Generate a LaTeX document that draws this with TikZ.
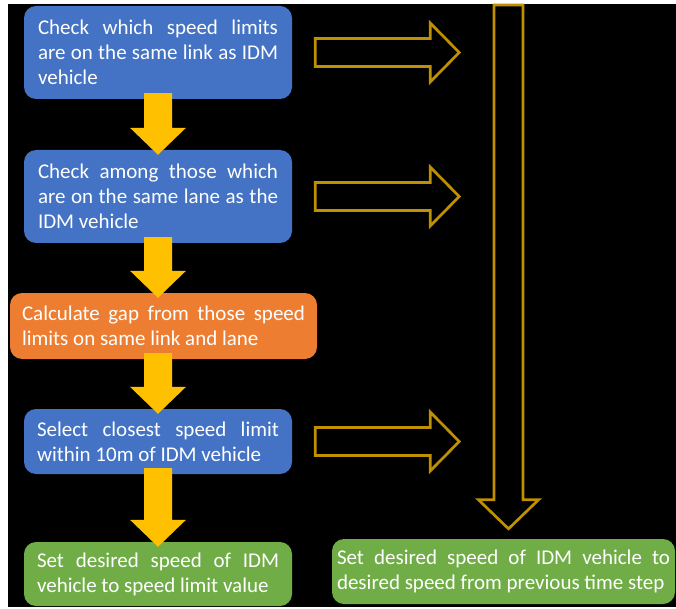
\documentclass[tikz,border=0pt]{standalone}
\usepackage{fontspec}
\setmainfont{Carlito}
\usetikzlibrary{calc}
\definecolor{cblue}{HTML}{4472C4}
\definecolor{corange}{HTML}{ED7D31}
\definecolor{cgreen}{HTML}{70AD47}
\definecolor{cyellow}{HTML}{FFC000}
\definecolor{cgold}{HTML}{BF9000}
\newcommand\solidarrow[2]{%
  \coordinate (st) at ($(b1.south |- #1.south)+(0,-6)$);
  \coordinate (sp) at ($(b1.south |- #2.north)+(0,5)$);
  \fill[yarrow] ($(st)+(-14,0)$) -- ($(st)+(14,0)$) -- ($(sp)+(14,-27)$) -- ($(sp)+(28,-27)$) -- (sp)
    -- ($(sp)+(-28,-27)$) -- ($(sp)+(-14,-27)$) -- cycle;}
\newcommand\hollowright[1]{%
  \draw[harrow] ($(#1.east)+(23,-14)$) -- ($(#1.east)+(138,-14)$) -- ($(#1.east)+(138,-29.5)$)
    -- ($(#1.east)+(167,0)$) -- ($(#1.east)+(138,29.5)$) -- ($(#1.east)+(138,14)$)
    -- ($(#1.east)+(23,14)$) -- cycle;}
\begin{document}
\begin{tikzpicture}[x=1pt,y=-1pt,
  box/.style={rounded corners=12pt, text=white, align=justify, inner xsep=14pt, inner ysep=0pt,
    font=\fontsize{21}{25}\selectfont},
  yarrow/.style={fill=cyellow},
  harrow/.style={draw=cgold, line width=2.7pt, line join=miter}]
\useasboundingbox (0,0) rectangle (676,609);
\fill[white] (0,0) rectangle (676,609);
\fill[black] (8,4) rectangle (676,607);

\node[box, fill=cblue, text width=240pt, minimum height=93pt] (b1) at (158,52.5)
  {Check which speed limits\linebreak are on the same link as IDM\linebreak vehicle};
\node[box, fill=cblue, text width=240pt, minimum height=93pt] (b2) at (158,196.5)
  {Check among those which\linebreak are on the same lane as the\linebreak IDM vehicle};
\node[box, fill=corange, text width=283pt, inner xsep=12pt, minimum height=66pt] (b3) at (163.5,326)
  {Calculate gap from those speed\linebreak limits on same link and lane};
\node[box, fill=cblue, text width=242pt, inner xsep=13pt, minimum height=65pt] (b4) at (158,441.5)
  {Select closest speed limit\linebreak within 10m of IDM vehicle};
\node[box, fill=cgreen, text width=242pt, inner xsep=13pt, minimum height=64pt] (b5) at (158,574)
  {Set desired speed of IDM\linebreak vehicle to speed limit value};
\node[box, fill=cgreen, text width=333pt, inner xsep=5pt, minimum height=65pt] (b6) at (503.5,571.5)
  {Set desired speed of IDM vehicle to\linebreak desired speed from previous time step};

\solidarrow{b1}{b2}
\solidarrow{b2}{b3}
\solidarrow{b3}{b4}
\solidarrow{b4}{b5}

\hollowright{b1}
\hollowright{b2}
\hollowright{b4}

\coordinate (vtop) at (508.5,5);
\coordinate (vtip) at ($(b6.north)+(5,-10)$);
\draw[harrow] ($(vtop)+(-14.5,0)$) -- ($(vtop)+(14.5,0)$) -- ($(vtip)+(14.5,-29)$) -- ($(vtip)+(30,-29)$)
  -- (vtip) -- ($(vtip)+(-30,-29)$) -- ($(vtip)+(-14.5,-29)$) -- cycle;
\end{tikzpicture}
\end{document}
